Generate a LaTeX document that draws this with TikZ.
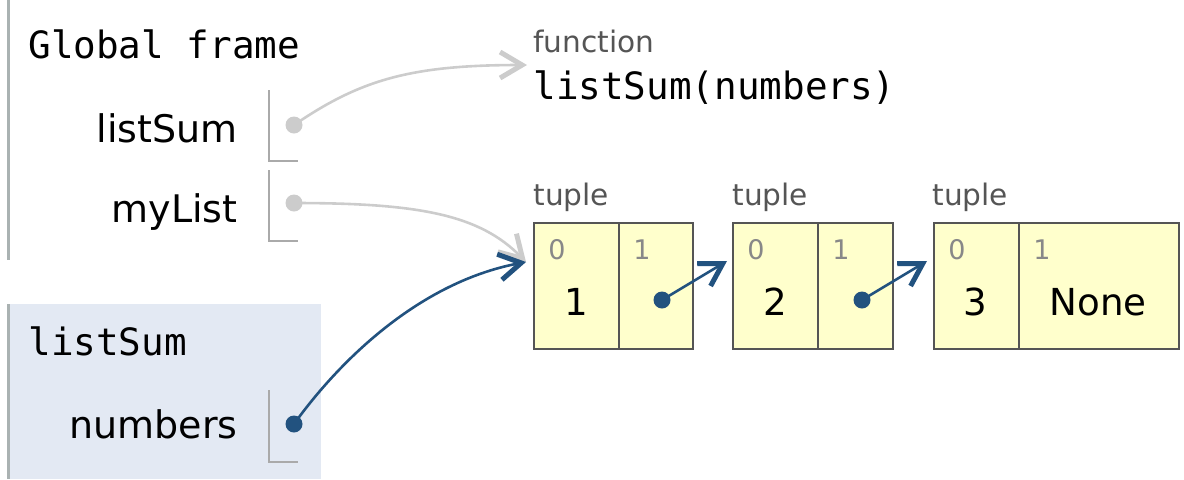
\documentclass[tikz,border=0pt]{standalone}
\usepackage{fontspec}
\setmainfont{DejaVu Sans}
\setmonofont{DejaVu Sans Mono}
\usetikzlibrary{arrows.meta}
\definecolor{ptblue}{HTML}{22527F}
\definecolor{gptr}{HTML}{CCCCCC}
\definecolor{brk}{HTML}{AAAAAA}
\definecolor{frameline}{HTML}{AAB2B2}
\definecolor{stackbg}{HTML}{E3E9F3}
\definecolor{cellfill}{HTML}{FFFFCC}
\definecolor{celledge}{HTML}{555555}
\definecolor{hdr}{HTML}{555555}
\definecolor{idx}{HTML}{888888}
\begin{document}
\begin{tikzpicture}[x=0.5pt,y=-0.5pt,
  mono/.style={inner sep=0pt, font=\ttfamily\fontsize{18.8}{22}\selectfont},
  lbl/.style={inner sep=0pt, font=\fontsize{19}{22}\selectfont},
  small/.style={inner sep=0pt, text=hdr, font=\fontsize{14.8}{18}\selectfont},
  idxlbl/.style={inner sep=0pt, text=idx, font=\fontsize{13.5}{16}\selectfont},
  val/.style={inner sep=0pt, font=\fontsize{18.6}{22}\selectfont},
  gdot/.style={circle, fill=gptr, inner sep=0pt, minimum size=8.5pt},
  bdot/.style={circle, fill=ptblue, inner sep=0pt, minimum size=8.5pt},
  bracket/.style={draw=brk, line width=1.1pt},
  cellbox/.style={draw=celledge, fill=cellfill, line width=1.1pt, anchor=north west, inner sep=0pt, minimum height=63pt},
  grayarrow/.style={draw=gptr, line width=1.3pt, -{Straight Barb[length=11pt,width=13pt,line width=2.5pt]}},
  bluearrow/.style={draw=ptblue, line width=1.3pt, -{Straight Barb[length=11pt,width=13pt,line width=2.5pt]}},
]
\useasboundingbox (0,0) rectangle (1184,479);
% frames
\fill[stackbg] (8,304) rectangle (321,479);
\draw[frameline, line width=1.5pt] (8,0) -- (8,260);
\draw[frameline, line width=1.5pt] (8,304) -- (8,479);
% global frame
\node[mono, anchor=base west] (gf) at (28,58) {Global frame};
\node[lbl, anchor=base east] (ls) at (238,142) {listSum};
\node[lbl, anchor=base east] (ml) at (238,222) {myList};
\draw[bracket] (269,90) |- (298,161);
\draw[bracket] (269,170) |- (298,241);
\node[gdot] (d1) at (294,125) {};
\node[gdot] (d2) at (294,203) {};
% stack frame
\node[mono, anchor=base west] (sf) at (28,355) {listSum};
\node[lbl, anchor=base east] (nm) at (238,438) {numbers};
\draw[bracket] (269,390) |- (298,462);
\node[bdot] (d3) at (294,424) {};
% function object
\node[small, anchor=base west] (fn) at (533,52) {function};
\node[mono, anchor=base west] (fsig) at (533,99) {listSum(numbers)};
% tuples
\node[small, anchor=base west] (tl1) at (533,205) {tuple};
\node[small, anchor=base west] (tl2) at (732,205) {tuple};
\node[small, anchor=base west] (tl3) at (932,205) {tuple};
\node[cellbox, minimum width=42.5pt] (t1a) at (533,222) {};
\node[cellbox, minimum width=37pt] (t1b) at (618,222) {};
\node[cellbox, minimum width=42.5pt] (t2a) at (732,222) {};
\node[cellbox, minimum width=37.5pt] (t2b) at (817,222) {};
\node[cellbox, minimum width=42.5pt] (t3a) at (933,222) {};
\node[cellbox, minimum width=80pt] (t3b) at (1018,222) {};
\node[idxlbl, anchor=base west] (i1a) at (548,259) {0};
\node[idxlbl, anchor=base west] (i1b) at (633,259) {1};
\node[idxlbl, anchor=base west] (i2a) at (747,259) {0};
\node[idxlbl, anchor=base west] (i2b) at (832,259) {1};
\node[idxlbl, anchor=base west] (i3a) at (948,259) {0};
\node[idxlbl, anchor=base west] (i3b) at (1033,259) {1};
\node[val, anchor=base] (v1) at (576,315) {1};
\node[val, anchor=base] (v2) at (775,315) {2};
\node[val, anchor=base] (v3) at (975,315) {3};
\node[val, anchor=base] (v4) at (1098,315) {None};
\node[bdot] (p1) at (662,300) {};
\node[bdot] (p2) at (862,300) {};
% arrow targets
\coordinate (fin) at (527,65);
\coordinate (t1in) at (526,262);
\coordinate (t2in) at (727,261);
\coordinate (t3in) at (927,261);
% connectors
\draw[grayarrow] (d1.center) .. controls (360,80) and (410,65) .. (fin);
\draw[grayarrow] (d2.center) .. controls (420,203) and (480,215) .. (t1in);
\draw[bluearrow] (d3.center) .. controls (340,360) and (420,282) .. (t1in);
\draw[bluearrow] (p1.center) -- (t2in);
\draw[bluearrow] (p2.center) -- (t3in);
\end{tikzpicture}
\end{document}
